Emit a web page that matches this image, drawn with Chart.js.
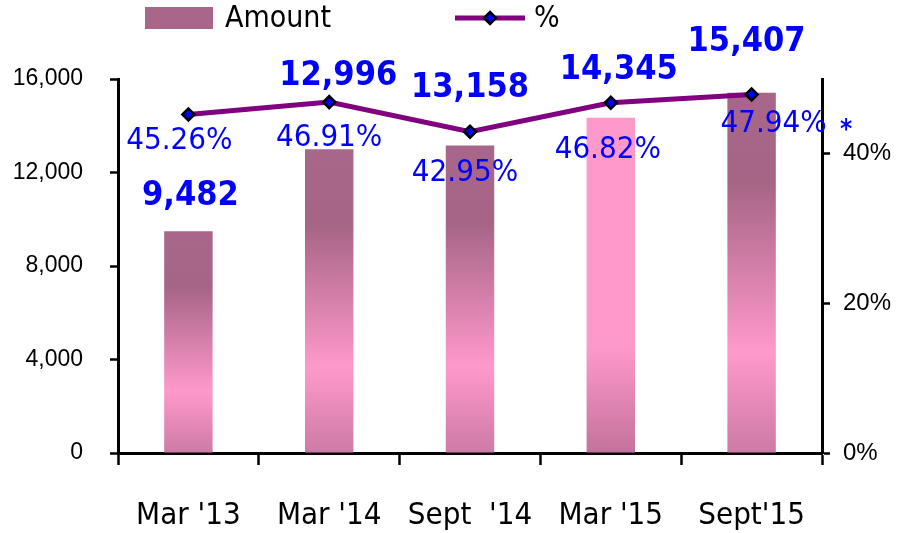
<!DOCTYPE html>
<html>
<head>
<meta charset="utf-8">
<script src="https://cdn.jsdelivr.net/npm/chart.js@4"></script>
<style>
  html, body { margin: 0; padding: 0; background: #fff; }
  #wrap { width: 900px; height: 533px; }
</style>
</head>
<body>
<div id="wrap"><canvas id="chart" width="900" height="533"></canvas></div>
<script>
const categories = ["Mar '13", "Mar '14", "Sept  '14", "Mar '15", "Sept'15"];
const amounts = [9482, 12996, 13158, 14345, 15407];
const percents = [45.26, 46.91, 42.95, 46.82, 47.94];
const amountTicks = [0, 4000, 8000, 12000, 16000];
const percentTicks = [0, 20, 40];
const highlightIndex = 3;

// hand nudges for the value labels (px), like in the original slide
const amountLabelLift = [35, 73, 57, 48, 51];
const amountLabelShift = [2, 9, 0, 8, -5];
const percentLabelDrop = [26, 36, 41, 47, 30];
const percentLabelShift = [-9, 0, -5, -3, 22];

const FONT = '"DejaVu Sans Condensed", "DejaVu Sans", sans-serif';
const TICK_FONT = '"Liberation Sans", Arial, sans-serif';
const MAUVE = '#a8668a';
const PINK = '#ff99cc';
const PURPLE = '#800080';
const BLUE = '#0000ff';

function barFill(ctx) {
  const chart = ctx.chart;
  if (!chart.chartArea || ctx.type !== 'data') return MAUVE;
  const y = chart.scales.y;
  const top = y.getPixelForValue(ctx.raw);
  const base = y.getPixelForValue(0);
  const g = chart.ctx.createLinearGradient(0, top, 0, base);
  if (ctx.dataIndex === highlightIndex) {
    g.addColorStop(0, PINK);
    g.addColorStop(0.68, PINK);
    g.addColorStop(1, '#c4729c');
  } else {
    g.addColorStop(0, MAUVE);
    g.addColorStop(0.25, '#a66585');
    g.addColorStop(0.72, PINK);
    g.addColorStop(1, '#cc7aa6');
  }
  return g;
}

function drawDiamond(c, x, y, r) {
  c.beginPath();
  c.moveTo(x, y - r);
  c.lineTo(x + r, y);
  c.lineTo(x, y + r);
  c.lineTo(x - r, y);
  c.closePath();
  c.fillStyle = BLUE;
  c.fill();
  c.lineWidth = 2.5;
  c.strokeStyle = '#000';
  c.stroke();
}

const labelsPlugin = {
  id: 'valueLabels',
  afterDatasetsDraw(chart) {
    const c = chart.ctx;
    c.save();
    c.textAlign = 'center';
    c.textBaseline = 'middle';

    const bars = chart.getDatasetMeta(0).data;
    c.font = 'bold 34px ' + FONT;
    c.fillStyle = BLUE;
    bars.forEach((bar, i) => {
      c.fillText(amounts[i].toLocaleString('en-US'), bar.x + amountLabelShift[i], bar.y - amountLabelLift[i]);
    });

    const pts = chart.getDatasetMeta(1).data;
    c.font = '31px ' + FONT;
    pts.forEach((pt, i) => {
      c.fillText(percents[i].toFixed(2) + '%', pt.x + percentLabelShift[i], pt.y + percentLabelDrop[i]);
    });

    // asterisk note next to the last value
    c.font = 'bold 26px ' + FONT;
    c.fillText('*', chart.chartArea.right + 24, 131);
    c.restore();
  }
};

const legendPlugin = {
  id: 'topLegend',
  afterDraw(chart) {
    const c = chart.ctx;
    const ds = chart.data.datasets;
    c.save();
    c.fillStyle = MAUVE;
    c.fillRect(145, 7, 68, 22);
    c.fillStyle = '#000';
    c.font = '30px ' + FONT;
    c.textBaseline = 'middle';
    c.fillText(ds[0].label, 225, 19);

    c.strokeStyle = ds[1].borderColor;
    c.lineWidth = 5;
    c.beginPath();
    c.moveTo(455, 18);
    c.lineTo(525, 18);
    c.stroke();
    drawDiamond(c, 490, 18, 6);
    c.fillStyle = '#000';
    c.fillText(ds[1].label, 534, 19);
    c.restore();
  }
};

new Chart(document.getElementById('chart'), {
  data: {
    labels: categories,
    datasets: [
      {
        type: 'bar',
        label: 'Amount',
        data: amounts,
        yAxisID: 'y',
        backgroundColor: barFill,
        borderWidth: 0,
        categoryPercentage: 1,
        barPercentage: 0.344,
        order: 2
      },
      {
        type: 'line',
        label: '%',
        data: percents,
        yAxisID: 'y1',
        borderColor: PURPLE,
        borderWidth: 5,
        tension: 0,
        pointStyle: 'rectRot',
        pointRadius: 6,
        pointBackgroundColor: BLUE,
        pointBorderColor: '#000',
        pointBorderWidth: 2.5,
        order: 1
      }
    ]
  },
  options: {
    responsive: false,
    animation: false,
    layout: { padding: { top: 79, left: 0, right: 0, bottom: 0 } },
    plugins: {
      legend: { display: false },
      tooltip: { enabled: false }
    },
    scales: {
      x: {
        offset: true,
        grid: { offset: true, drawOnChartArea: false, tickLength: 12, tickWidth: 2.5, tickColor: '#000' },
        border: { color: '#000', width: 3 },
        ticks: { color: '#000', padding: 32, font: { family: FONT, size: 31 }, maxRotation: 0 },
        afterFit: (scale) => { scale.height = 80; }
      },
      y: {
        position: 'left',
        min: 0,
        max: 16000,
        afterBuildTicks: (axis) => { axis.ticks = amountTicks.map((v) => ({ value: v })); },
        grid: { drawOnChartArea: false, tickLength: 8, tickWidth: 2.5, tickColor: '#000' },
        border: { color: '#000', width: 3 },
        ticks: {
          color: '#000',
          padding: 27,
          font: { family: TICK_FONT, size: 23 },
          callback: (v) => v.toLocaleString('en-US')
        },
        afterFit: (scale) => { scale.width = 118; }
      },
      y1: {
        position: 'right',
        min: 0,
        max: 50,
        afterBuildTicks: (axis) => { axis.ticks = percentTicks.map((v) => ({ value: v })); },
        grid: { drawOnChartArea: false, tickLength: 8, tickWidth: 2.5, tickColor: '#000' },
        border: { color: '#000', width: 3 },
        ticks: {
          color: '#000',
          padding: 13,
          font: { family: TICK_FONT, size: 24 },
          callback: (v) => v + '%'
        },
        afterFit: (scale) => { scale.width = 78; }
      }
    }
  },
  plugins: [labelsPlugin, legendPlugin]
});
</script>
</body>
</html>
